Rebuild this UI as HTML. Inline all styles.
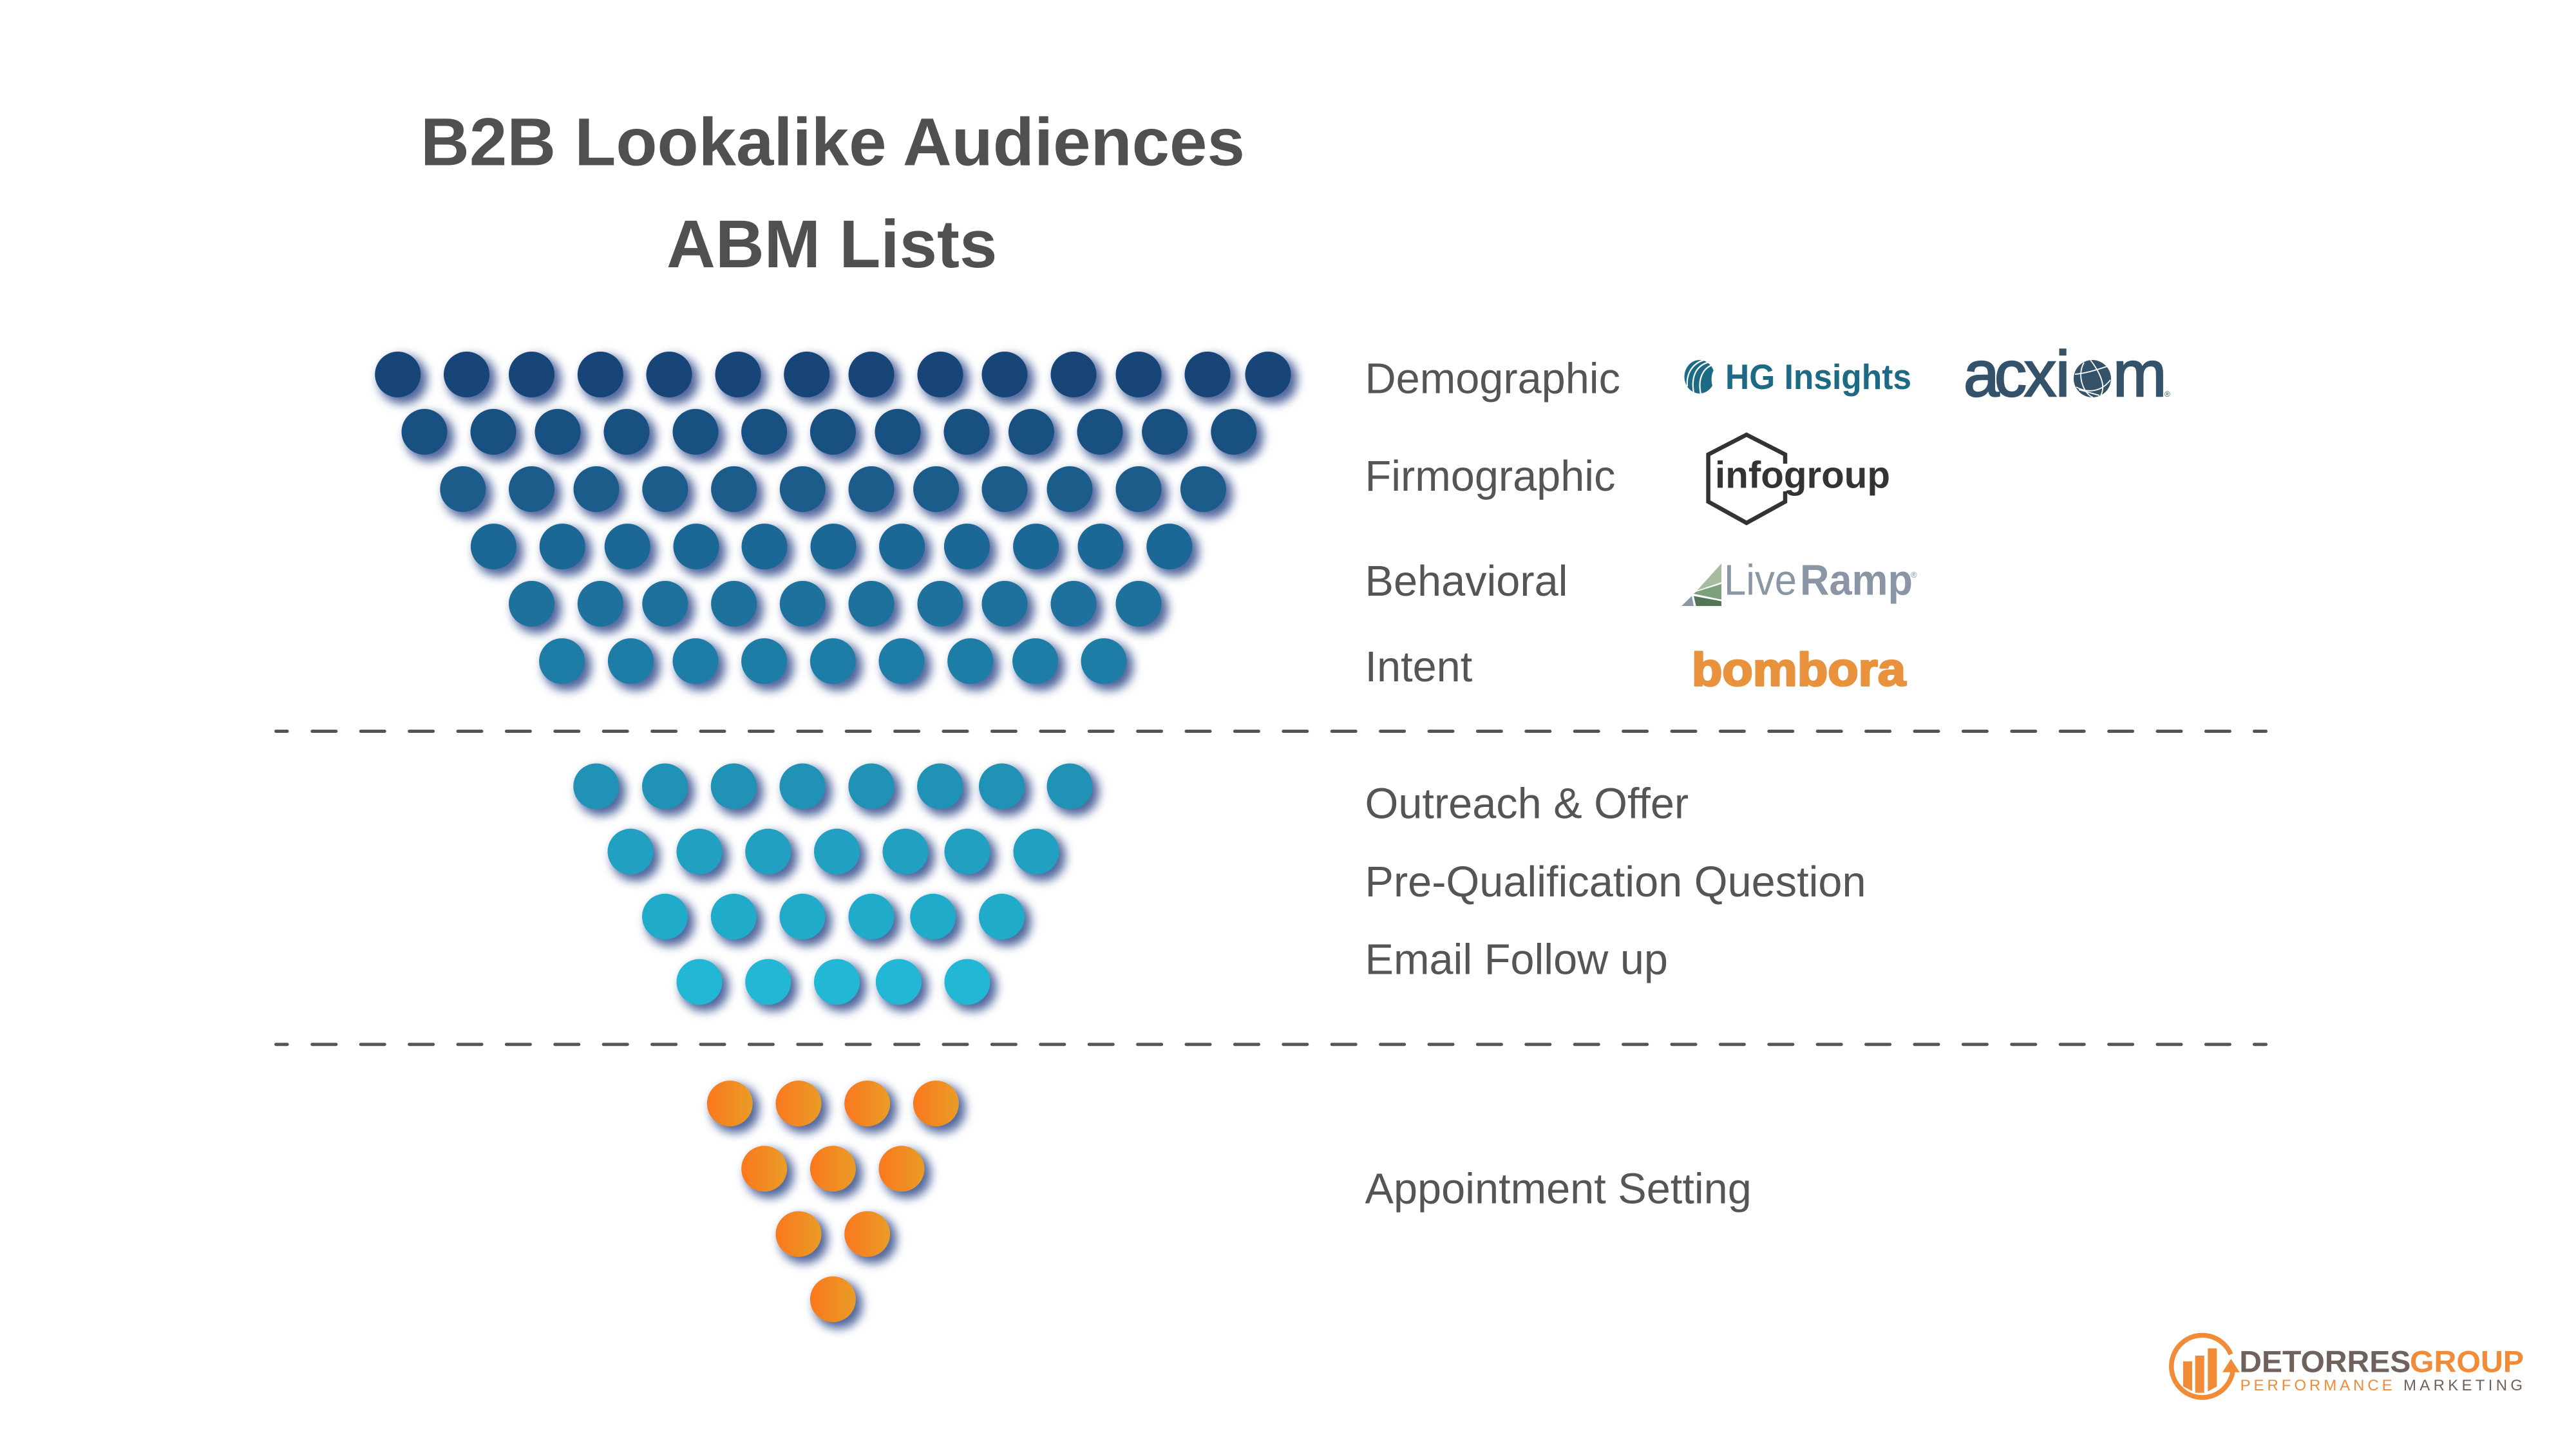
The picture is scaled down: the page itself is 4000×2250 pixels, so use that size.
<!DOCTYPE html>
<html><head><meta charset="utf-8"><title>B2B Lookalike Audiences ABM Lists</title>
<style>
html,body{margin:0;padding:0;background:#fff;width:4000px;height:2250px;overflow:hidden}
svg{display:block}
text{font-family:"Liberation Sans",Arial,sans-serif}
.t{font-size:105px;font-weight:bold;fill:#505050}
.l{font-size:66.67px;fill:#555}
</style></head><body>
<svg width="4000" height="2250" viewBox="0 0 4000 2250" xmlns="http://www.w3.org/2000/svg">
<defs>
<filter id="s" filterUnits="userSpaceOnUse" x="0" y="0" width="4000" height="2250" color-interpolation-filters="sRGB">
<feMorphology in="SourceAlpha" operator="dilate" radius="2" result="d"/>
<feGaussianBlur in="d" stdDeviation="7.5" result="b"/>
<feOffset in="b" dx="8" dy="8" result="o"/>
<feFlood flood-color="#3d5592" flood-opacity=".9"/>
<feComposite in2="o" operator="in" result="c"/>
<feMerge><feMergeNode in="c"/><feMergeNode in="SourceGraphic"/></feMerge>
</filter>
<linearGradient id="og" x1="0" x2="1" y1="0" y2="0"><stop offset="0" stop-color="#f9781e"/><stop offset="1" stop-color="#ea9c26"/></linearGradient>
</defs>
<rect width="4000" height="2250" fill="#fff"/>
<text class="t" x="653" y="256.7">B2B Lookalike Audiences</text>
<text class="t" x="1035" y="415">ABM Lists</text>

<g filter="url(#s)">
<g fill="#184578">
<circle cx="617.7" cy="581.5" r="35.5"/><circle cx="724.5" cy="581.5" r="35.5"/><circle cx="825.5" cy="581.5" r="35.5"/><circle cx="932.3" cy="581.5" r="35.5"/><circle cx="1039" cy="581.5" r="35.5"/><circle cx="1146" cy="581.5" r="35.5"/><circle cx="1252.7" cy="581.5" r="35.5"/><circle cx="1353" cy="581.5" r="35.5"/><circle cx="1460" cy="581.5" r="35.5"/><circle cx="1560" cy="581.5" r="35.5"/><circle cx="1667" cy="581.5" r="35.5"/><circle cx="1768" cy="581.5" r="35.5"/><circle cx="1875" cy="581.5" r="35.5"/><circle cx="1969" cy="581.5" r="35.5"/>
</g>
<g fill="#195082">
<circle cx="659" cy="670.5" r="35.5"/><circle cx="766" cy="670.5" r="35.5"/><circle cx="866" cy="670.5" r="35.5"/><circle cx="973" cy="670.5" r="35.5"/><circle cx="1080" cy="670.5" r="35.5"/><circle cx="1186.6" cy="670.5" r="35.5"/><circle cx="1293.4" cy="670.5" r="35.5"/><circle cx="1394" cy="670.5" r="35.5"/><circle cx="1501" cy="670.5" r="35.5"/><circle cx="1601.4" cy="670.5" r="35.5"/><circle cx="1708" cy="670.5" r="35.5"/><circle cx="1808.6" cy="670.5" r="35.5"/><circle cx="1915.8" cy="670.5" r="35.5"/>
</g>
<g fill="#1b5c8b">
<circle cx="718.8" cy="759.5" r="35.5"/><circle cx="825.5" cy="759.5" r="35.5"/><circle cx="926" cy="759.5" r="35.5"/><circle cx="1032.8" cy="759.5" r="35.5"/><circle cx="1139.6" cy="759.5" r="35.5"/><circle cx="1246.3" cy="759.5" r="35.5"/><circle cx="1353" cy="759.5" r="35.5"/><circle cx="1453.6" cy="759.5" r="35.5"/><circle cx="1560" cy="759.5" r="35.5"/><circle cx="1661" cy="759.5" r="35.5"/><circle cx="1768" cy="759.5" r="35.5"/><circle cx="1868.4" cy="759.5" r="35.5"/>
</g>
<g fill="#1b6795">
<circle cx="766.4" cy="848.6" r="35.5"/><circle cx="873.2" cy="848.6" r="35.5"/><circle cx="974.2" cy="848.6" r="35.5"/><circle cx="1081" cy="848.6" r="35.5"/><circle cx="1187" cy="848.6" r="35.5"/><circle cx="1294" cy="848.6" r="35.5"/><circle cx="1400.6" cy="848.6" r="35.5"/><circle cx="1501.4" cy="848.6" r="35.5"/><circle cx="1608.6" cy="848.6" r="35.5"/><circle cx="1709" cy="848.6" r="35.5"/><circle cx="1815.8" cy="848.6" r="35.5"/>
</g>
<g fill="#1d719c">
<circle cx="825.5" cy="937.5" r="35.5"/><circle cx="932.3" cy="937.5" r="35.5"/><circle cx="1032.8" cy="937.5" r="35.5"/><circle cx="1139.6" cy="937.5" r="35.5"/><circle cx="1246.3" cy="937.5" r="35.5"/><circle cx="1353" cy="937.5" r="35.5"/><circle cx="1460" cy="937.5" r="35.5"/><circle cx="1560" cy="937.5" r="35.5"/><circle cx="1667" cy="937.5" r="35.5"/><circle cx="1768" cy="937.5" r="35.5"/>
</g>
<g fill="#1d7da6">
<circle cx="872.6" cy="1026.6" r="35.5"/><circle cx="979.4" cy="1026.6" r="35.5"/><circle cx="1080" cy="1026.6" r="35.5"/><circle cx="1186.6" cy="1026.6" r="35.5"/><circle cx="1293.4" cy="1026.6" r="35.5"/><circle cx="1400" cy="1026.6" r="35.5"/><circle cx="1506.7" cy="1026.6" r="35.5"/><circle cx="1607.6" cy="1026.6" r="35.5"/><circle cx="1714" cy="1026.6" r="35.5"/>
</g>
<g fill="#1f92b6">
<circle cx="925.8" cy="1221" r="35.5"/><circle cx="1032.5" cy="1221" r="35.5"/><circle cx="1139.3" cy="1221" r="35.5"/><circle cx="1246" cy="1221" r="35.5"/><circle cx="1352.9" cy="1221" r="35.5"/><circle cx="1459.6" cy="1221" r="35.5"/><circle cx="1555.5" cy="1221" r="35.5"/><circle cx="1661" cy="1221" r="35.5"/>
</g>
<g fill="#21a0c1">
<circle cx="979" cy="1322.3" r="35.5"/><circle cx="1086" cy="1322.3" r="35.5"/><circle cx="1192.7" cy="1322.3" r="35.5"/><circle cx="1299.5" cy="1322.3" r="35.5"/><circle cx="1406" cy="1322.3" r="35.5"/><circle cx="1502" cy="1322.3" r="35.5"/><circle cx="1609" cy="1322.3" r="35.5"/>
</g>
<g fill="#21abca">
<circle cx="1032.5" cy="1423.3" r="35.5"/><circle cx="1139.3" cy="1423.3" r="35.5"/><circle cx="1246" cy="1423.3" r="35.5"/><circle cx="1352.9" cy="1423.3" r="35.5"/><circle cx="1448.7" cy="1423.3" r="35.5"/><circle cx="1555.5" cy="1423.3" r="35.5"/>
</g>
<g fill="#22b7d5">
<circle cx="1086" cy="1524.7" r="35.5"/><circle cx="1192.7" cy="1524.7" r="35.5"/><circle cx="1299.5" cy="1524.7" r="35.5"/><circle cx="1395.4" cy="1524.7" r="35.5"/><circle cx="1502" cy="1524.7" r="35.5"/>
</g>
<g fill="url(#og)">
<circle cx="1133.3" cy="1713.5" r="35.5"/><circle cx="1240" cy="1713.5" r="35.5"/><circle cx="1346.7" cy="1713.5" r="35.5"/><circle cx="1453.4" cy="1713.5" r="35.5"/>
<circle cx="1186.7" cy="1814.8" r="35.5"/><circle cx="1293.4" cy="1814.8" r="35.5"/><circle cx="1400" cy="1814.8" r="35.5"/>
<circle cx="1240" cy="1916.2" r="35.5"/><circle cx="1346.7" cy="1916.2" r="35.5"/>
<circle cx="1293.4" cy="2017.5" r="35.5"/>
</g>
</g>

<g fill="none" stroke="#555" stroke-width="5" stroke-linecap="round">
<path d="M428.5 1135.5H446"/><path d="M484.8 1135.5H3462.5" stroke-dasharray="37 38.4"/><path d="M3500.5 1135.5H3518.5"/>
<path d="M428.5 1621.7H446"/><path d="M484.8 1621.7H3462.5" stroke-dasharray="37 38.4"/><path d="M3500.5 1621.7H3518.5"/>
</g>

<text class="l" x="2119.5" y="610.4">Demographic</text>
<text class="l" x="2119.5" y="762">Firmographic</text>
<text class="l" x="2119.5" y="925">Behavioral</text>
<text class="l" x="2119.5" y="1058">Intent</text>
<text class="l" x="2119.5" y="1270.5">Outreach &amp; Offer</text>
<text class="l" x="2119.5" y="1392">Pre-Qualification Question</text>
<text class="l" x="2119.5" y="1512.5">Email Follow up</text>
<text class="l" x="2119.5" y="1868.7">Appointment Setting</text>

<!-- HG Insights -->
<ellipse cx="2639" cy="585" rx="23.5" ry="26" fill="#1d6a85"/>
<g fill="none" stroke="#fff" stroke-width="2.2">
<path d="M2655 562C2636 566 2625 582 2630 610"/><path d="M2660 566C2644 572 2636 588 2641 612"/><path d="M2650 558C2630 562 2618 578 2620 600"/>
</g>
<path d="M2664 570C2656 580 2655 596 2664 610Z" fill="#fff"/>
<text x="2679" y="604" font-size="55" font-weight="bold" textLength="289" lengthAdjust="spacingAndGlyphs" fill="#1d6a85">HG Insights</text>

<!-- acxiom -->
<g fill="#34536a" stroke="#34536a" stroke-width="2.4" font-size="100">
<text x="3049 3097 3143 3192" y="615">acxi</text>
<text x="3281" y="615">m</text>
</g>
<circle cx="3249" cy="588" r="29" fill="#34536a"/>
<g fill="none" stroke="#fff" stroke-width="1.8">
<path d="M3222 581C3240 580 3262 572 3272 569"/><path d="M3224 601C3240 610 3262 610 3277 590"/><path d="M3246 559C3262 580 3270 600 3262 614"/><path d="M3236 563C3224 584 3236 612 3250 617"/><path d="M3228 605L3260 614"/>
</g>
<circle cx="3249" cy="588" r="8" fill="#34536a"/>
<text x="3361" y="616" font-size="12" fill="#34536a">®</text>

<!-- infogroup -->
<path d="M2772 720V705.7L2712 675L2652.6 705.7V779L2712 812L2772 779V763" fill="none" stroke="#333" stroke-width="6.5"/>
<text x="2663" y="757.5" font-size="58" font-weight="bold" textLength="272" lengthAdjust="spacingAndGlyphs" fill="#333">infogroup</text>

<!-- LiveRamp -->
<polygon points="2673,875 2673,904 2635,917" fill="#a8bba0"/>
<polygon points="2673,906.8 2673,931 2630,922 2633.6,919" fill="#7da07c"/>
<polygon points="2630,925.5 2673,933.6 2673,941 2633.6,941" fill="#557558"/>
<polygon points="2627,925.5 2630,941 2611,941" fill="#8d97a6"/>
<text x="2677" y="923.6" font-size="67" textLength="113" lengthAdjust="spacingAndGlyphs" fill="#8a95a5">Live</text>
<text x="2795" y="923.6" font-size="67" font-weight="bold" textLength="175" lengthAdjust="spacingAndGlyphs" fill="#8a95a5">Ramp</text>
<text x="2967" y="897" font-size="13" fill="#8a95a5">®</text>

<!-- bombora -->
<text x="2627" y="1064.5" font-size="72" font-weight="bold" textLength="332" lengthAdjust="spacingAndGlyphs" fill="#e9923e" stroke="#e9923e" stroke-width="3" stroke-linejoin="round">bombora</text>

<!-- DeTorres logo -->
<path d="M3464 2103A48 48.3 0 1 0 3467 2130" fill="none" stroke="#f28b38" stroke-width="7.5"/>
<polygon points="3464.3,2110 3477.7,2130.7 3451,2130.7" fill="#f28b38"/>
<polygon points="3390,2114 3404,2114 3404,2160 3390,2152.7" fill="#f28b38"/>
<rect x="3408.7" y="2105" width="14" height="57.7" fill="#f28b38"/>
<polygon points="3428.3,2093.7 3442.3,2093.7 3442.3,2153 3428.3,2160.7" fill="#f28b38"/>
<text x="3477.3" y="2130.7" font-size="47.5" font-weight="bold" textLength="266" lengthAdjust="spacingAndGlyphs" fill="#6f625c">DETORRES</text>
<text x="3742" y="2130.7" font-size="47.5" font-weight="bold" textLength="177" lengthAdjust="spacingAndGlyphs" fill="#f28b38">GROUP</text>
<text x="3478.6" y="2159" font-size="24" textLength="236" fill="#f28b38">PERFORMANCE</text>
<text x="3732" y="2159" font-size="24" textLength="185" fill="#6f625c">MARKETING</text>
</svg>
</body></html>
